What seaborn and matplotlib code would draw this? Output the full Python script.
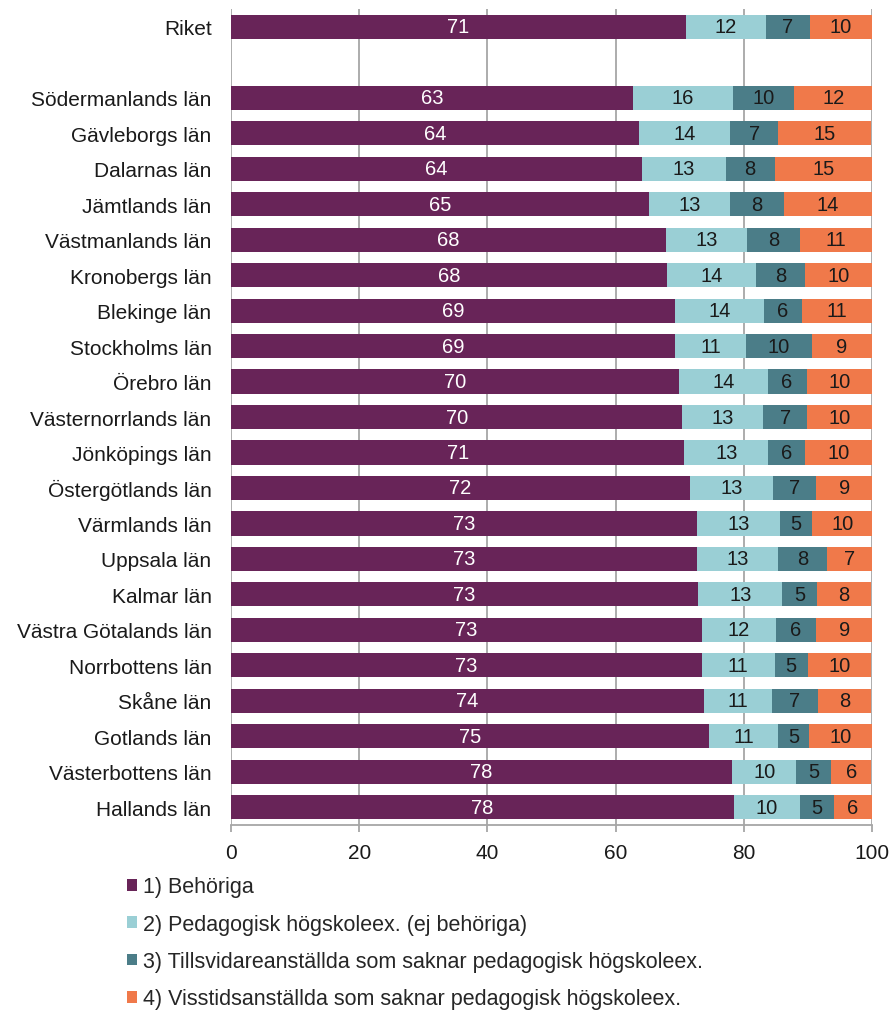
import matplotlib
matplotlib.use("Agg")
import matplotlib.pyplot as plt
import seaborn as sns
import pandas as pd
from matplotlib.patches import Patch

# Lan (rows, top to bottom) - the blank one gives the gap after Riket
lan = ["Riket", "", "Södermanlands län", "Gävleborgs län", "Dalarnas län", "Jämtlands län",
       "Västmanlands län", "Kronobergs län", "Blekinge län", "Stockholms län", "Örebro län",
       "Västernorrlands län", "Jönköpings län", "Östergötlands län", "Värmlands län",
       "Uppsala län", "Kalmar län", "Västra Götalands län", "Norrbottens län", "Skåne län",
       "Gotlands län", "Västerbottens län", "Hallands län"]
rows = [n for n in lan if n]

# shares in percent, one list per group (same order as rows)
behoriga = [71.0, 62.7, 63.6, 64.1, 65.2, 67.9, 68.0, 69.3, 69.3, 69.9, 70.4, 70.7, 71.6,
            72.7, 72.7, 72.9, 73.4, 73.4, 73.8, 74.6, 78.2, 78.4]
ped_hogsk = [12.4, 15.6, 14.3, 13.1, 12.7, 12.6, 13.9, 13.9, 11.1, 13.8, 12.6, 13.1, 13.0,
             13.0, 12.6, 13.1, 11.6, 11.4, 10.6, 10.8, 10.0, 10.4]
tillsvidare = [6.9, 9.6, 7.4, 7.6, 8.3, 8.2, 7.7, 5.8, 10.2, 6.1, 6.9, 5.8, 6.6,
               4.9, 7.7, 5.4, 6.3, 5.2, 7.1, 4.7, 5.4, 5.2]
visstid = [9.7, 12.1, 14.6, 15.2, 13.8, 11.3, 10.4, 11.0, 9.4, 10.2, 10.2, 10.4, 9.0,
           9.7, 7.1, 8.4, 8.8, 9.9, 8.4, 9.9, 6.3, 6.0]

series = ["1) Behöriga", "2) Pedagogisk högskoleex. (ej behöriga)",
          "3) Tillsvidareanställda som saknar pedagogisk högskoleex.",
          "4) Visstidsanställda som saknar pedagogisk högskoleex."]
colors = ["#682458", "#9ACFD5", "#4B7D88", "#F0794A"]
txt_colors = ["white", "#1a1a1a", "#1a1a1a", "#1a1a1a"]

df = pd.DataFrame({"lan": rows, series[0]: behoriga, series[1]: ped_hogsk,
                   series[2]: tillsvidare, series[3]: visstid})
cum = df[series].cumsum(axis=1)

sns.set_style("white")
plt.rcParams["font.family"] = ["Liberation Sans", "DejaVu Sans"]

fig = plt.figure(figsize=(8.9, 10.12), dpi=100)
ax = fig.add_axes([0.2596, 0.1838, 0.7202, 0.8063])

# stacked look: draw cumulative totals, widest first
for i in range(len(series) - 1, -1, -1):
    sns.barplot(x=cum[series[i]], y=df["lan"], order=lan, color=colors[i],
                width=0.68, errorbar=None, saturation=1, linewidth=0, ax=ax)

# centred value labels
ypos = {n: k for k, n in enumerate(lan)}
for _, r in df.iterrows():
    left = 0
    for i, s in enumerate(series):
        v = r[s]
        ax.text(left + v / 2, ypos[r["lan"]], f"{v:.0f}", ha="center", va="center",
                fontsize=14.5, color=txt_colors[i])
        left += v

ax.set_xlim(0, 100)
ax.set_ylim(len(lan) - 0.5, -0.5)
ax.set_xticks([0, 20, 40, 60, 80, 100])
ax.set_xlabel("")
ax.set_ylabel("")
ax.set_axisbelow(True)
ax.xaxis.grid(True, color="#A6A6A6", linewidth=1.3)
ax.yaxis.grid(False)
for sp in ["top", "right", "left"]:
    ax.spines[sp].set_visible(False)
ax.spines["bottom"].set_color("#A6A6A6")
ax.spines["bottom"].set_linewidth(1.3)
ax.tick_params(axis="y", length=0, pad=14, labelsize=15, labelcolor="#1a1a1a")
ax.tick_params(axis="x", length=5, width=1.3, color="#A6A6A6", bottom=True,
               pad=8, labelsize=15, labelcolor="#1a1a1a")

handles = [Patch(facecolor=c, edgecolor="none") for c in colors]
fig.legend(handles, series, loc="upper left", bbox_to_anchor=(0.143, 0.133),
           frameon=False, fontsize=15.5, handlelength=0.45, handleheight=0.45,
           handletextpad=0.3, labelspacing=0.76, borderaxespad=0, borderpad=0)

fig.savefig("out.png", dpi=100)
